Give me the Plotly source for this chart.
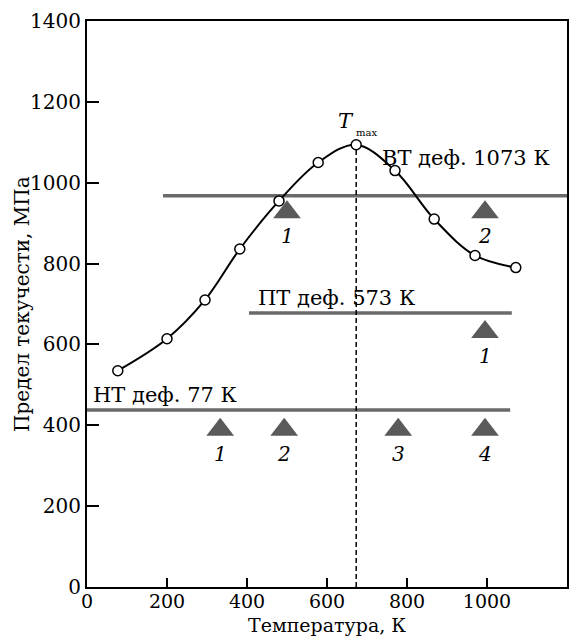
import plotly.graph_objects as go

# Curve data: temperature (K) vs yield strength (MPa)
temp = [77, 200, 295, 382, 480, 578, 673, 770, 868, 970, 1072]
stress = [535, 614, 710, 836, 955, 1050, 1094, 1030, 910, 820, 790]

T_max = 673

# Horizontal levels for deformation regimes
levels_name = ["ВТ деф. 1073 К", "ПТ деф. 573 К", "НТ деф. 77 К"]
levels_y = [968, 678, 438]
levels_x0 = [190, 405, 0]
levels_x1 = [1200, 1062, 1058]

# Triangle markers (regime, x, y, label)
tri_x = [500, 995, 995, 333, 493, 778, 995]
tri_y = [927, 927, 631, 389, 389, 389, 389]
tri_lab = ["1", "2", "1", "1", "2", "3", "4"]

x_ticks = [0, 200, 400, 600, 800, 1000, 1200]
y_ticks = [0, 200, 400, 600, 800, 1000, 1200, 1400]

x_title = "Температура, К"
y_title = "Предел текучести, МПа"

FONT = "DejaVu Serif"
fig = go.Figure()

# level lines
for name, y, x0, x1 in zip(levels_name, levels_y, levels_x0, levels_x1):
    fig.add_trace(go.Scatter(x=[x0, x1], y=[y, y], mode="lines",
                             line=dict(color="#6a6a6a", width=3.5),
                             showlegend=False, hoverinfo="skip"))

# dashed Tmax line
fig.add_trace(go.Scatter(x=[T_max, T_max], y=[0, max(stress)], mode="lines",
                         line=dict(color="black", width=1.5, dash="5px,3px"),
                         showlegend=False, hoverinfo="skip"))

# curve
fig.add_trace(go.Scatter(x=temp, y=stress, mode="lines+markers",
                         line=dict(color="black", width=2, shape="spline", smoothing=1.0),
                         marker=dict(symbol="circle", size=10, color="white",
                                     line=dict(color="black", width=1.5)),
                         showlegend=False))

# triangles
fig.add_trace(go.Scatter(x=tri_x, y=tri_y, mode="markers",
                         marker=dict(symbol="triangle-up", size=24, color="#5a5a5a",
                                     line=dict(width=0)),
                         showlegend=False))

for x, y, lab in zip(tri_x, tri_y, tri_lab):
    fig.add_annotation(x=x, y=y, text=f"<i>{lab}</i>", showarrow=False,
                       xref="x", yref="y", yshift=-24,
                       font=dict(family=FONT, size=20, color="black"))

# level labels
lab_pos = [(733, 1060), (422, 715), (10, 475)]
for name, (x, y) in zip(levels_name, lab_pos):
    fig.add_annotation(x=x, y=y, text=name, showarrow=False, xanchor="left",
                       xref="x", yref="y",
                       font=dict(family=FONT, size=21, color="black"))

fig.add_annotation(x=T_max, y=1152, text="<i>T</i>", showarrow=False,
                   xref="x", yref="y", xanchor="right",
                   font=dict(family=FONT, size=21, color="black"))
fig.add_annotation(x=T_max, y=1125, text="max", showarrow=False,
                   xref="x", yref="y", xanchor="left", xshift=-2,
                   font=dict(family=FONT, size=10, color="black"))

# axis titles
fig.add_annotation(x=0.5, y=0, xref="paper", yref="paper", text=x_title,
                   showarrow=False, yanchor="middle", yshift=-38,
                   font=dict(family=FONT, size=19, color="black"))
fig.add_annotation(x=0, y=0.5, xref="paper", yref="paper", text=y_title,
                   showarrow=False, xanchor="center", xshift=-65, textangle=-90,
                   font=dict(family=FONT, size=20, color="black"))

axis_common = dict(showgrid=False, zeroline=False, showline=True, linecolor="black",
                   linewidth=2, mirror=True, ticks="inside", tickcolor="black",
                   tickwidth=2, automargin=False)

fig.update_xaxes(range=[0, 1200], tickvals=x_ticks, ticklen=9, ticklabelstandoff=-4,
                 tickfont=dict(family=FONT, size=19, color="black"), **axis_common)
fig.update_yaxes(range=[0, 1400], tickvals=y_ticks, ticklen=12,
                 tickfont=dict(family=FONT, size=20, color="black"), **axis_common)

fig.update_layout(width=586, height=637, margin=dict(l=87, r=19, t=21, b=50),
                  plot_bgcolor="white", paper_bgcolor="white",
                  font=dict(family=FONT))

fig.write_html("out.html", config={"displayModeBar": False},
               post_script="document.body.style.margin='0';")
